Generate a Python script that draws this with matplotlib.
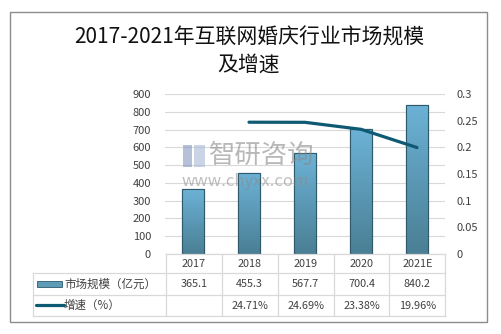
import matplotlib
matplotlib.use("Agg")
import matplotlib.pyplot as plt
import numpy as np
from matplotlib.patches import Rectangle
from matplotlib.lines import Line2D
from matplotlib.colors import LinearSegmentedColormap

plt.rcParams['font.family'] = ['Noto Sans CJK SC', 'DejaVu Sans']

years = ["2017", "2018", "2019", "2020", "2021E"]
market = [365.1, 455.3, 567.7, 700.4, 840.2]
growth = [None, 0.2471, 0.2469, 0.2338, 0.1996]
market_labels = ["365.1", "455.3", "567.7", "700.4", "840.2"]
growth_labels = ["", "24.71%", "24.69%", "23.38%", "19.96%"]
left_ticks = [0, 100, 200, 300, 400, 500, 600, 700, 800, 900]
right_ticks = [0, 0.05, 0.1, 0.15, 0.2, 0.25, 0.3]
right_tick_labels = ["0", "0.05", "0.1", "0.15", "0.2", "0.25", "0.3"]
title = "2017-2021年互联网婚庆行业市场规模\n及增速"
row1_name = "市场规模（亿元）"
row2_name = "增速（%）"

W, H = 501, 334
fig = plt.figure(figsize=(W/100, H/100), dpi=100)

def fx(px): return px / W
def fy(py): return 1 - py / H

txtc = "#404040"
gridc = "#d9d9d9"
line_c = "#0f5a73"

# outer border
fig.add_artist(Rectangle((fx(10), fy(322)), fx(477), 310/H, transform=fig.transFigure,
                         fill=False, edgecolor="#8c8c8c", linewidth=1.0))

fig.text(fx(249), fy(51), title, ha="center", va="center", fontsize=15,
         color="#111111", linespacing=1.3, fontweight="medium")

ax = fig.add_axes([fx(165), fy(254), fx(280), 160/H])
x = np.arange(len(years))
ax.set_yticks(left_ticks)
ax.set_yticklabels([str(t) for t in left_ticks], fontsize=8, color=txtc)
ax.tick_params(axis="y", length=0, pad=10)
ax.set_xticks([])
for s in ax.spines.values():
    s.set_visible(False)
ax.grid(axis="y", color=gridc, linewidth=0.8)
ax.set_axisbelow(True)

bars = ax.bar(x, market, width=0.4, color="#5b9ab8", edgecolor="#2e5a6b", linewidth=0.8, zorder=2)
grad = np.linspace(0, 1, 256).reshape(-1, 1)
cmap = LinearSegmentedColormap.from_list("g", ["#4a7f94", "#6cb2d6"])
for b in bars:
    x0, w, h = b.get_x(), b.get_width(), b.get_height()
    im = ax.imshow(grad, extent=[x0, x0 + w, 0, h], origin="lower", aspect="auto",
                   cmap=cmap, zorder=2.5)
    im.set_clip_path(b)
    ax.add_patch(Rectangle((x0, 0), w, h, fill=False, edgecolor="#2e5a6b", linewidth=0.8, zorder=3))
ax.set_xlim(-0.5, len(years) - 0.5)
ax.set_ylim(0, 900)

ax2 = ax.twinx()
ax2.set_ylim(0, 0.3)
ax2.set_yticks(right_ticks)
ax2.set_yticklabels(right_tick_labels, fontsize=8, color=txtc)
ax2.tick_params(axis="y", length=0, pad=8)
for s in ax2.spines.values():
    s.set_visible(False)
gx = [i for i, g in enumerate(growth) if g is not None]
gy = [g for g in growth if g is not None]
ax2.plot(gx, gy, color=line_c, linewidth=2.3, solid_capstyle="round", solid_joinstyle="round", zorder=4)
ax2.set_xlim(-0.5, len(years) - 0.5)

# watermark
fig.text(fx(209), fy(155), "智研咨询", fontsize=19, color="#8a8a8a", alpha=0.6,
         ha="left", va="center")
fig.add_artist(Rectangle((fx(183), fy(167)), 9/W, 22/H, transform=fig.transFigure,
                         facecolor="#8796c0", alpha=0.6, edgecolor="none"))
fig.add_artist(Rectangle((fx(194), fy(167)), 11/W, 22/H, transform=fig.transFigure,
                         facecolor="#a9b6d6", alpha=0.6, edgecolor="none"))
fig.text(fx(182), fy(181), "www.chyxx.com", fontsize=12, color="#8a8a8a", alpha=0.55,
         ha="left", va="center")

# table
col_edges = [166, 221.7, 277.7, 333.7, 389.3, 445.3]
row_edges = [254, 273, 295, 316]
tl = 33
def hline(y, x0, x1):
    fig.add_artist(Line2D([fx(x0), fx(x1)], [fy(y), fy(y)], transform=fig.transFigure,
                          color=gridc, linewidth=0.9))
def vline(xp, y0, y1):
    fig.add_artist(Line2D([fx(xp), fx(xp)], [fy(y0), fy(y1)], transform=fig.transFigure,
                          color=gridc, linewidth=0.9))
hline(254, col_edges[0], col_edges[-1])
for y in row_edges[1:]:
    hline(y, tl, col_edges[-1])
vline(tl, 273, 316)
for c in col_edges:
    vline(c, 254, 316)

for i in range(len(years)):
    cx = (col_edges[i] + col_edges[i + 1]) / 2
    fig.text(fx(cx), fy(264), years[i], ha="center", va="center", fontsize=7.8, color=txtc)
    fig.text(fx(cx), fy(284), market_labels[i], ha="center", va="center", fontsize=7.8, color=txtc)
    fig.text(fx(cx), fy(306), growth_labels[i], ha="center", va="center", fontsize=7.8, color=txtc)

fig.add_artist(Rectangle((fx(37), fy(287)), 25/W, 6/H, transform=fig.transFigure,
                         facecolor="#5d9bb7", edgecolor="#2e5a6b", linewidth=0.6))
fig.add_artist(Line2D([fx(36), fx(64)], [fy(305), fy(305)], transform=fig.transFigure,
                      color=line_c, linewidth=2.3, solid_capstyle="round"))
fig.text(fx(64), fy(284), row1_name, ha="left", va="center", fontsize=8.3, color=txtc)
fig.text(fx(64), fy(305), row2_name, ha="left", va="center", fontsize=8.3, color=txtc)

fig.savefig("out.png", dpi=100)
